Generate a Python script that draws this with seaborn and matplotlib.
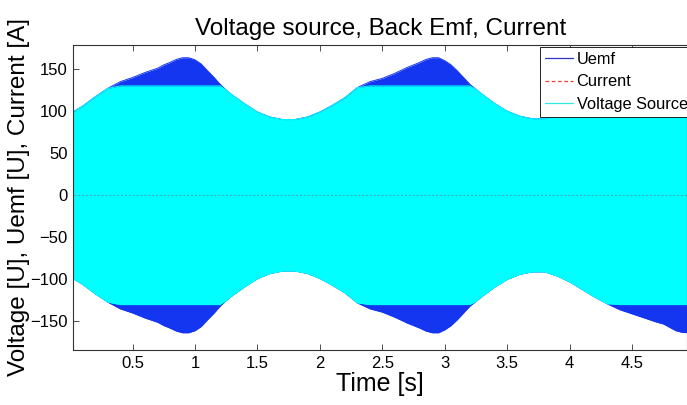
import numpy as np
import pandas as pd
import matplotlib
matplotlib.use("Agg")
import matplotlib.pyplot as plt
from matplotlib.lines import Line2D
import seaborn as sns

# --- data -------------------------------------------------------------
# envelope (amplitude) of the back-emf, in U, at the given times [s]
time_s = [0.00, 0.10, 0.20, 0.30, 0.40, 0.50, 0.60, 0.70, 0.75, 0.80, 0.85,
          0.90, 0.95, 1.00, 1.05, 1.10, 1.15, 1.20, 1.25, 1.30, 1.40, 1.50,
          1.60, 1.70, 1.80, 1.90,
          2.00, 2.10, 2.20, 2.30, 2.40, 2.50, 2.60, 2.70, 2.75, 2.80, 2.85,
          2.90, 2.95, 3.00, 3.05, 3.10, 3.15, 3.20, 3.25, 3.30, 3.40, 3.50,
          3.60, 3.70, 3.80, 3.90,
          4.00, 4.10, 4.20, 4.30, 4.40, 4.50, 4.60, 4.70, 4.75, 4.80, 4.85,
          4.90, 4.95]
uemf_amp = [97, 106, 117, 127, 135, 140, 146, 151, 155, 158, 161.5,
            163.5, 163.5, 161, 156, 148, 140.5, 132, 125, 119, 108.5, 99,
            93, 90, 90, 93,
            99, 107, 116, 128, 135, 139, 145, 152, 155, 158, 161.5,
            163.5, 163.5, 160, 155, 148, 140, 132, 126, 120, 109, 100,
            94, 91, 91, 96,
            103, 112, 121, 129, 136, 141, 146, 151, 153, 157, 161,
            163, 163.5]
source_limit = 130          # voltage source saturation level [U]
current_t = [0.0, 1.0, 2.0, 3.0, 4.0, 5.0]
current_a = [0.0, 0.0, 0.0, 0.0, 0.0, 0.0]
series_names = ["Uemf", "Current", "Voltage Source"]

# --- derived tables ------------------------------------------------------
df = pd.DataFrame({"t": time_s, "uemf": uemf_amp})
df["src"] = np.minimum(df["uemf"], source_limit)
cur = pd.DataFrame({"t": current_t, "i": current_a})

BLUE = "#1436f0"
CYAN = "#00ffff"

sns.set_style("white")
plt.rcParams["font.family"] = ["Liberation Sans", "DejaVu Sans"]
plt.rcParams["text.color"] = "black"
plt.rcParams["axes.labelcolor"] = "black"
plt.rcParams["xtick.color"] = "black"
plt.rcParams["ytick.color"] = "black"

fig = plt.figure(figsize=(6.87, 4.05), dpi=100)
ax = fig.add_axes([0.1067, 0.1358, 0.8933, 0.7538])

# Uemf: full envelope (blue), visible where it exceeds the source limit
ax.fill_between(df["t"], -df["uemf"], df["uemf"], color=BLUE, lw=0, zorder=1)
sns.lineplot(data=df, x="t", y="uemf", ax=ax, color=BLUE, lw=0.7,
             zorder=1.5, legend=False)
sns.lineplot(x=df["t"], y=-df["uemf"], ax=ax, color=BLUE, lw=0.7,
             zorder=1.5, legend=False)

# Voltage source: saturated envelope (cyan)
ax.fill_between(df["t"], -df["src"], df["src"], color=CYAN, lw=0, zorder=2)
sns.lineplot(data=df, x="t", y="src", ax=ax, color=CYAN, lw=0.7,
             zorder=2.5, legend=False)
sns.lineplot(x=df["t"], y=-df["src"], ax=ax, color=CYAN, lw=0.7,
             zorder=2.5, legend=False)

# Current: small, around zero
sns.lineplot(data=cur, x="t", y="i", ax=ax, color="#a03838", lw=0.7,
             linestyle=(0, (2, 2)), alpha=0.45, zorder=3, legend=False)

handles = [Line2D([], [], color="#3232c8", lw=0.9),
           Line2D([], [], color="#e83c3c", lw=0.9, linestyle=(0, (3, 2))),
           Line2D([], [], color="#30e8e8", lw=0.9)]
leg = ax.legend(handles, series_names,
                loc="upper left", bbox_to_anchor=(0.760, 0.992),
                fontsize=11.8, frameon=True, fancybox=False,
                borderpad=0.3, labelspacing=0.45, handlelength=1.75,
                handletextpad=0.2, borderaxespad=0.0)
leg.get_frame().set_edgecolor("black")
leg.get_frame().set_linewidth(0.6)
leg.get_frame().set_alpha(1)

ax.set_xlim(0.025, 4.94)
ax.set_ylim(-184, 179)
ax.set_xticks([0.5, 1, 1.5, 2, 2.5, 3, 3.5, 4, 4.5])
ax.set_xticklabels(["0.5", "1", "1.5", "2", "2.5", "3", "3.5", "4", "4.5"])
ax.set_yticks([-150, -100, -50, 0, 50, 100, 150])
ax.tick_params(direction="in", length=4, width=0.6, labelsize=12,
               top=True, right=True, bottom=True, left=True,
               color="#333333", labelcolor="black", pad=4)
for s in ax.spines.values():
    s.set_color("#333333")
    s.set_linewidth(0.8)

ax.set_title("Voltage source, Back Emf, Current", fontsize=17.5, pad=7)
ax.set_xlabel("Time [s]", fontsize=18, labelpad=1)
ax.set_ylabel("Voltage [U], Uemf [U], Current [A]", fontsize=17.5, labelpad=0)

fig.savefig("out.png", dpi=100)
